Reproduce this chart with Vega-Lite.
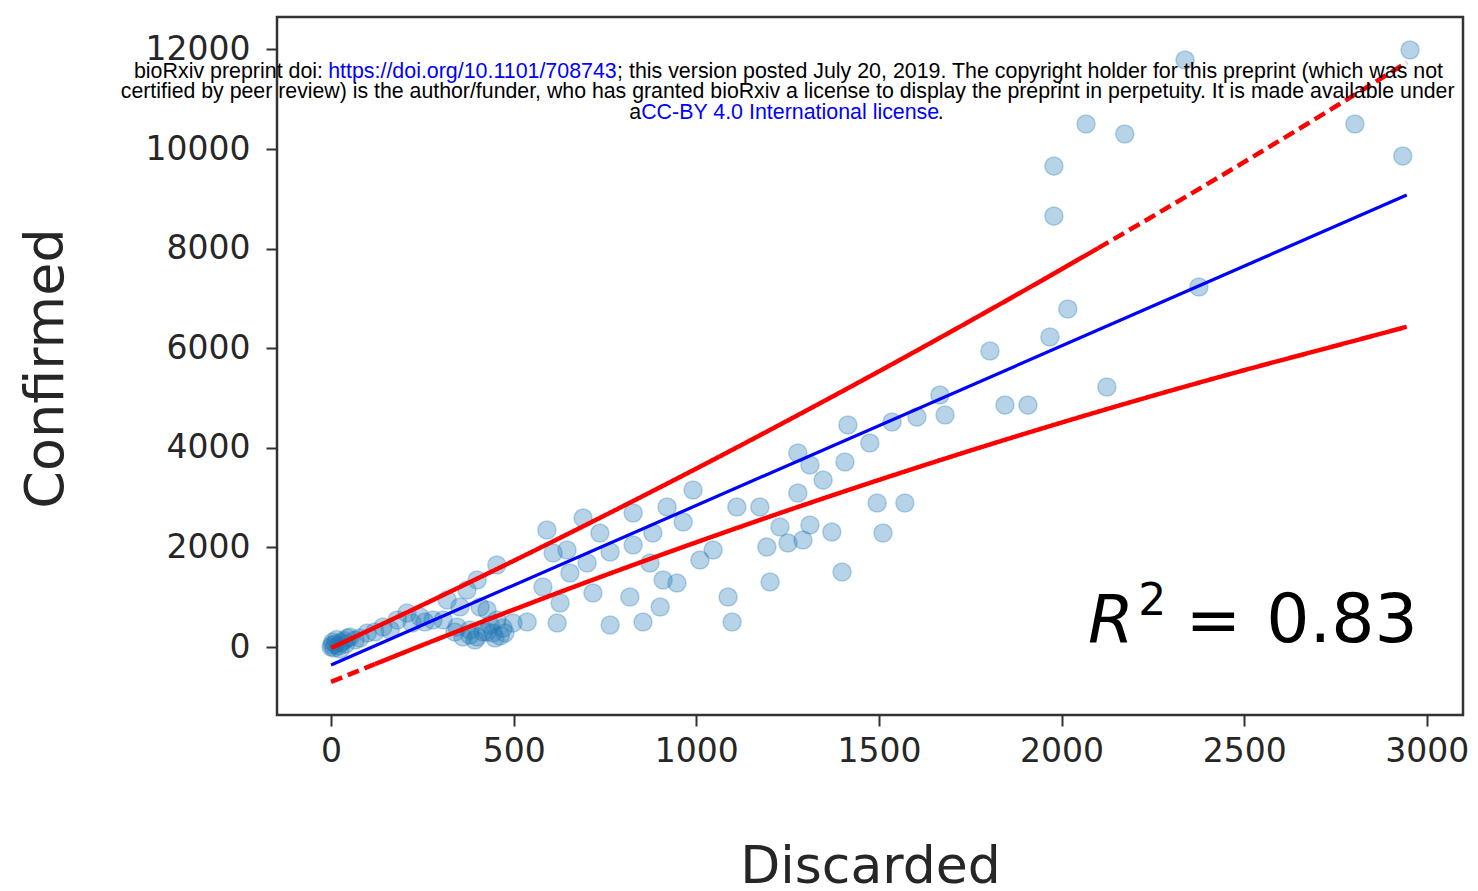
{
  "$schema": "https://vega.github.io/schema/vega-lite/v6.json",
  "width": 1186,
  "height": 698,
  "autosize": {"type": "none"},
  "padding": {"left": 277, "top": 17, "right": 15, "bottom": 176},
  "background": "white",
  "config": {
    "view": {"stroke": "#333333", "strokeWidth": 2.5},
    "axis": {
      "grid": false,
      "domain": false,
      "tickColor": "#333333",
      "tickWidth": 2,
      "tickSize": 11,
      "format": "d",
      "labelFont": "DejaVu Sans",
      "labelFontSize": 33,
      "labelColor": "#262626",
      "titleFont": "DejaVu Sans",
      "titleFontSize": 52,
      "titleFontWeight": "normal",
      "titleColor": "#262626"
    }
  },
  "datasets": {
    "points": [
      {"Discarded": 0, "Confirmed": 0}, {"Discarded": 3, "Confirmed": 40}, {"Discarded": 8, "Confirmed": -20},
      {"Discarded": 12, "Confirmed": 60}, {"Discarded": 20, "Confirmed": 20}, {"Discarded": 28, "Confirmed": 90},
      {"Discarded": 35, "Confirmed": 130}, {"Discarded": 5, "Confirmed": 100}, {"Discarded": 15, "Confirmed": 150},
      {"Discarded": 40, "Confirmed": 60}, {"Discarded": 45, "Confirmed": 180}, {"Discarded": 25, "Confirmed": -40},
      {"Discarded": 52, "Confirmed": 201}, {"Discarded": 66, "Confirmed": 141}, {"Discarded": 79, "Confirmed": 181},
      {"Discarded": 99, "Confirmed": 281}, {"Discarded": 120, "Confirmed": 301}, {"Discarded": 142, "Confirmed": 402},
      {"Discarded": 162, "Confirmed": 341}, {"Discarded": 181, "Confirmed": 542}, {"Discarded": 208, "Confirmed": 683},
      {"Discarded": 222, "Confirmed": 482}, {"Discarded": 244, "Confirmed": 602}, {"Discarded": 257, "Confirmed": 502},
      {"Discarded": 279, "Confirmed": 542}, {"Discarded": 307, "Confirmed": 542}, {"Discarded": 318, "Confirmed": 944},
      {"Discarded": 345, "Confirmed": 402}, {"Discarded": 353, "Confirmed": 803}, {"Discarded": 361, "Confirmed": 201},
      {"Discarded": 372, "Confirmed": 1145}, {"Discarded": 380, "Confirmed": 341}, {"Discarded": 400, "Confirmed": 201},
      {"Discarded": 400, "Confirmed": 1345}, {"Discarded": 408, "Confirmed": 803}, {"Discarded": 416, "Confirmed": 301},
      {"Discarded": 427, "Confirmed": 743}, {"Discarded": 443, "Confirmed": 281}, {"Discarded": 454, "Confirmed": 1647},
      {"Discarded": 454, "Confirmed": 542}, {"Discarded": 471, "Confirmed": 382}, {"Discarded": 498, "Confirmed": 482},
      {"Discarded": 380, "Confirmed": 241}, {"Discarded": 427, "Confirmed": 301}, {"Discarded": 463, "Confirmed": 221},
      {"Discarded": 339, "Confirmed": 301}, {"Discarded": 435, "Confirmed": 442}, {"Discarded": 394, "Confirmed": 141},
      {"Discarded": 449, "Confirmed": 181}, {"Discarded": 476, "Confirmed": 281},
      {"Discarded": 537, "Confirmed": 502}, {"Discarded": 580, "Confirmed": 1205}, {"Discarded": 591, "Confirmed": 2349},
      {"Discarded": 608, "Confirmed": 1888}, {"Discarded": 619, "Confirmed": 482}, {"Discarded": 627, "Confirmed": 884},
      {"Discarded": 646, "Confirmed": 1948}, {"Discarded": 654, "Confirmed": 1486}, {"Discarded": 690, "Confirmed": 2590},
      {"Discarded": 701, "Confirmed": 1687}, {"Discarded": 717, "Confirmed": 1084}, {"Discarded": 736, "Confirmed": 2289},
      {"Discarded": 764, "Confirmed": 1908}, {"Discarded": 764, "Confirmed": 442}, {"Discarded": 818, "Confirmed": 1004},
      {"Discarded": 827, "Confirmed": 2691}, {"Discarded": 827, "Confirmed": 2048}, {"Discarded": 854, "Confirmed": 502},
      {"Discarded": 873, "Confirmed": 1687}, {"Discarded": 881, "Confirmed": 2289}, {"Discarded": 901, "Confirmed": 803},
      {"Discarded": 909, "Confirmed": 1345}, {"Discarded": 920, "Confirmed": 2811}, {"Discarded": 947, "Confirmed": 1285},
      {"Discarded": 964, "Confirmed": 2510}, {"Discarded": 991, "Confirmed": 3153}, {"Discarded": 1010, "Confirmed": 1747},
      {"Discarded": 1046, "Confirmed": 1948}, {"Discarded": 1087, "Confirmed": 1004}, {"Discarded": 1098, "Confirmed": 502},
      {"Discarded": 1111, "Confirmed": 2811}, {"Discarded": 1174, "Confirmed": 2811}, {"Discarded": 1193, "Confirmed": 2008},
      {"Discarded": 1202, "Confirmed": 1305}, {"Discarded": 1229, "Confirmed": 2410}, {"Discarded": 1251, "Confirmed": 2088},
      {"Discarded": 1278, "Confirmed": 3896}, {"Discarded": 1278, "Confirmed": 3092}, {"Discarded": 1292, "Confirmed": 2149},
      {"Discarded": 1311, "Confirmed": 3655}, {"Discarded": 1311, "Confirmed": 2450}, {"Discarded": 1347, "Confirmed": 3353},
      {"Discarded": 1371, "Confirmed": 2309}, {"Discarded": 1399, "Confirmed": 1506}, {"Discarded": 1407, "Confirmed": 3715},
      {"Discarded": 1415, "Confirmed": 4458}, {"Discarded": 1475, "Confirmed": 4096}, {"Discarded": 1495, "Confirmed": 2892},
      {"Discarded": 1511, "Confirmed": 2289}, {"Discarded": 1536, "Confirmed": 4518}, {"Discarded": 1571, "Confirmed": 2892},
      {"Discarded": 1604, "Confirmed": 4618}, {"Discarded": 1667, "Confirmed": 5060}, {"Discarded": 1681, "Confirmed": 4659},
      {"Discarded": 1804, "Confirmed": 5944}, {"Discarded": 1845, "Confirmed": 4859}, {"Discarded": 1908, "Confirmed": 4859},
      {"Discarded": 1968, "Confirmed": 6225}, {"Discarded": 2017, "Confirmed": 6787}, {"Discarded": 1979, "Confirmed": 8654},
      {"Discarded": 1979, "Confirmed": 9658}, {"Discarded": 2067, "Confirmed": 10502}, {"Discarded": 2124, "Confirmed": 5221},
      {"Discarded": 2173, "Confirmed": 10301}, {"Discarded": 2338, "Confirmed": 11787}, {"Discarded": 2376, "Confirmed": 7229},
      {"Discarded": 2803, "Confirmed": 10502}, {"Discarded": 2934, "Confirmed": 9859}, {"Discarded": 2954, "Confirmed": 11988}
    ],
    "lines": [
      {"series": "fit", "style": "solid", "Discarded": 0, "Confirmed": -361},
      {"series": "fit", "style": "solid", "Discarded": 2945, "Confirmed": 9076},
      {"series": "upper", "style": "solid", "Discarded": 0, "Confirmed": -21},
      {"series": "upper", "style": "solid", "Discarded": 250, "Confirmed": 843},
      {"series": "upper", "style": "solid", "Discarded": 500, "Confirmed": 1731},
      {"series": "upper", "style": "solid", "Discarded": 750, "Confirmed": 2645},
      {"series": "upper", "style": "solid", "Discarded": 1000, "Confirmed": 3583},
      {"series": "upper", "style": "solid", "Discarded": 1250, "Confirmed": 4547},
      {"series": "upper", "style": "solid", "Discarded": 1500, "Confirmed": 5535},
      {"series": "upper", "style": "solid", "Discarded": 1750, "Confirmed": 6549},
      {"series": "upper", "style": "solid", "Discarded": 2000, "Confirmed": 7587},
      {"series": "upper", "style": "solid", "Discarded": 2100, "Confirmed": 8009},
      {"series": "upper", "style": "dashed", "Discarded": 2100, "Confirmed": 8009},
      {"series": "upper", "style": "dashed", "Discarded": 2250, "Confirmed": 8651},
      {"series": "upper", "style": "dashed", "Discarded": 2500, "Confirmed": 9739},
      {"series": "upper", "style": "dashed", "Discarded": 2750, "Confirmed": 10853},
      {"series": "upper", "style": "dashed", "Discarded": 2945, "Confirmed": 11739},
      {"series": "lower", "style": "dashed", "Discarded": 0, "Confirmed": -701},
      {"series": "lower", "style": "dashed", "Discarded": 120, "Confirmed": -344},
      {"series": "lower", "style": "solid", "Discarded": 120, "Confirmed": -344},
      {"series": "lower", "style": "solid", "Discarded": 250, "Confirmed": 38},
      {"series": "lower", "style": "solid", "Discarded": 500, "Confirmed": 751},
      {"series": "lower", "style": "solid", "Discarded": 750, "Confirmed": 1440},
      {"series": "lower", "style": "solid", "Discarded": 1000, "Confirmed": 2103},
      {"series": "lower", "style": "solid", "Discarded": 1250, "Confirmed": 2742},
      {"series": "lower", "style": "solid", "Discarded": 1500, "Confirmed": 3355},
      {"series": "lower", "style": "solid", "Discarded": 1750, "Confirmed": 3944},
      {"series": "lower", "style": "solid", "Discarded": 2000, "Confirmed": 4507},
      {"series": "lower", "style": "solid", "Discarded": 2250, "Confirmed": 5046},
      {"series": "lower", "style": "solid", "Discarded": 2500, "Confirmed": 5559},
      {"series": "lower", "style": "solid", "Discarded": 2750, "Confirmed": 6048},
      {"series": "lower", "style": "solid", "Discarded": 2945, "Confirmed": 6430}
    ]
  },
  "layer": [
    {
      "data": {"name": "points"},
      "mark": {"type": "point", "filled": true, "shape": "circle", "size": 330, "color": "#1f77b4", "fillOpacity": 0.32, "strokeOpacity": 0.3, "strokeWidth": 1.5, "stroke": "#1f77b4"},
      "encoding": {
        "x": {"field": "Discarded", "type": "quantitative", "scale": {"domain": [-148, 3099], "nice": false, "zero": false},
              "axis": {"values": [0, 500, 1000, 1500, 2000, 2500, 3000], "title": "Discarded", "labelPadding": 9, "titleX": 593, "titleY": 167, "titleBaseline": "alphabetic", "titleAlign": "center", "titleFontSize": 52}},
        "y": {"field": "Confirmed", "type": "quantitative", "scale": {"domain": [-1365, 12651], "nice": false, "zero": false},
              "axis": {"values": [0, 2000, 4000, 6000, 8000, 10000, 12000], "title": "Confirmed", "labelPadding": 16, "titleX": -215, "titleY": 351, "titleAngle": 270, "titleBaseline": "alphabetic", "titleAlign": "center", "titleFontSize": 54}}
      }
    },
    {
      "data": {"name": "lines"},
      "transform": [{"filter": "datum.series === 'fit'"}],
      "mark": {"type": "line", "color": "#0000ff", "strokeWidth": 3.2},
      "encoding": {
        "x": {"field": "Discarded", "type": "quantitative"},
        "y": {"field": "Confirmed", "type": "quantitative"}
      }
    },
    {
      "data": {"name": "lines"},
      "transform": [{"filter": "datum.series !== 'fit'"}],
      "mark": {"type": "line", "color": "#ff0000", "strokeWidth": 4.5, "interpolate": "monotone"},
      "encoding": {
        "x": {"field": "Discarded", "type": "quantitative"},
        "y": {"field": "Confirmed", "type": "quantitative"},
        "detail": {"field": "series"},
        "strokeDash": {"field": "style", "type": "nominal", "scale": {"domain": ["solid", "dashed"], "range": [[1, 0], [12, 6]]}, "legend": null}
      }
    },
    {
      "data": {"values": [{}]},
      "mark": {"type": "text", "text": "R", "font": "DejaVu Sans", "fontStyle": "italic", "fontSize": 66, "align": "left", "baseline": "alphabetic", "color": "#000000"},
      "encoding": {"x": {"datum": 2072, "type": "quantitative"}, "y": {"datum": 100, "type": "quantitative"}}
    },
    {
      "data": {"values": [{}]},
      "mark": {"type": "text", "text": "2", "font": "DejaVu Sans", "fontSize": 44, "align": "left", "baseline": "alphabetic", "color": "#000000"},
      "encoding": {"x": {"datum": 2210, "type": "quantitative"}, "y": {"datum": 643, "type": "quantitative"}}
    },
    {
      "data": {"values": [{}]},
      "mark": {"type": "text", "text": "=", "font": "DejaVu Sans", "fontSize": 66, "align": "left", "baseline": "alphabetic", "color": "#000000"},
      "encoding": {"x": {"datum": 2340, "type": "quantitative"}, "y": {"datum": 100, "type": "quantitative"}}
    },
    {
      "data": {"values": [{}]},
      "mark": {"type": "text", "text": "0.83", "font": "DejaVu Sans", "fontSize": 68, "align": "right", "baseline": "alphabetic", "color": "#000000"},
      "encoding": {"x": {"datum": 2975, "type": "quantitative"}, "y": {"datum": 100, "type": "quantitative"}}
    },
    {
      "data": {"values": [{}]},
      "mark": {"type": "text", "text": "bioRxiv preprint doi:", "font": "Liberation Sans", "fontSize": 21.4, "align": "right", "baseline": "alphabetic", "color": "#000000"},
      "encoding": {"x": {"datum": -22, "type": "quantitative"}, "y": {"datum": 11426, "type": "quantitative"}}
    },
    {
      "data": {"values": [{}]},
      "mark": {"type": "text", "text": "https://doi.org/10.1101/708743", "font": "Liberation Sans", "fontSize": 21.4, "align": "left", "baseline": "alphabetic", "color": "#0000ff"},
      "encoding": {"x": {"datum": -8, "type": "quantitative"}, "y": {"datum": 11426, "type": "quantitative"}}
    },
    {
      "data": {"values": [{}]},
      "mark": {"type": "text", "text": "; this version posted July 20, 2019. The copyright holder for this preprint (which was not", "font": "Liberation Sans", "fontSize": 21.4, "align": "left", "baseline": "alphabetic", "color": "#000000"},
      "encoding": {"x": {"datum": 783, "type": "quantitative"}, "y": {"datum": 11426, "type": "quantitative"}}
    },
    {
      "data": {"values": [{}]},
      "mark": {"type": "text", "text": "certified by peer review) is the author/funder, who has granted bioRxiv a license to display the preprint in perpetuity. It is made available under", "font": "Liberation Sans", "fontSize": 21.3, "align": "center", "baseline": "alphabetic", "color": "#000000"},
      "encoding": {"x": {"datum": 1250, "type": "quantitative"}, "y": {"datum": 11024, "type": "quantitative"}}
    },
    {
      "data": {"values": [{}]},
      "mark": {"type": "text", "text": "a", "font": "Liberation Sans", "fontSize": 21.4, "align": "right", "baseline": "alphabetic", "color": "#000000"},
      "encoding": {"x": {"datum": 849, "type": "quantitative"}, "y": {"datum": 10602, "type": "quantitative"}}
    },
    {
      "data": {"values": [{}]},
      "mark": {"type": "text", "text": "CC-BY 4.0 International license", "font": "Liberation Sans", "fontSize": 21.4, "align": "left", "baseline": "alphabetic", "color": "#0000ff"},
      "encoding": {"x": {"datum": 849, "type": "quantitative"}, "y": {"datum": 10602, "type": "quantitative"}}
    },
    {
      "data": {"values": [{}]},
      "mark": {"type": "text", "text": ".", "font": "Liberation Sans", "fontSize": 21.4, "align": "left", "baseline": "alphabetic", "color": "#000000"},
      "encoding": {"x": {"datum": 1661, "type": "quantitative"}, "y": {"datum": 10602, "type": "quantitative"}}
    }
  ]
}
